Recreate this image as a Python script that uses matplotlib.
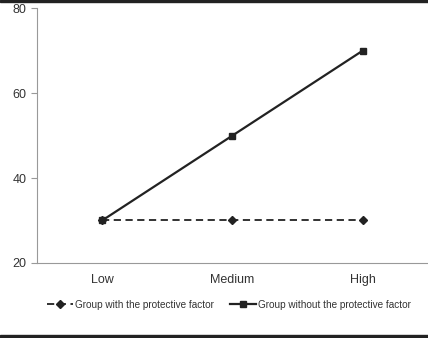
import matplotlib
matplotlib.use("Agg")
import matplotlib.pyplot as plt
from matplotlib.patches import Rectangle

plt.rcParams['font.family'] = ['Liberation Sans', 'DejaVu Sans']

categories = ["Low", "Medium", "High"]
with_factor = [30, 30, 30]
without_factor = [30, 50, 70]
y_ticks = [20, 40, 60, 80]

fig = plt.figure(figsize=(4.28, 3.38), dpi=100)
ax = fig.add_axes([0.0864, 0.222, 0.9136, 0.754])

x = [i + 0.5 for i in range(len(categories))]
ax.plot(x, with_factor, color="#222222", linestyle=(0, (4, 2.5)), linewidth=1.3,
        marker="D", markersize=4.5, label="Group with the protective factor")
ax.plot(x, without_factor, color="#222222", linestyle="-", linewidth=1.6,
        marker="s", markersize=5, label="Group without the protective factor")

ax.set_xlim(0, 3)
ax.set_ylim(20, 80)
ax.set_xticks(x)
ax.set_xticklabels(categories)
ax.set_yticks(y_ticks)
for s in ["top", "right"]:
    ax.spines[s].set_visible(False)
for s in ["left", "bottom"]:
    ax.spines[s].set_color("#999999")
ax.tick_params(axis="x", length=0, pad=8, labelsize=9, colors="#333333")
ax.tick_params(axis="y", length=4, color="#999999", labelsize=9, colors="#333333")

leg = fig.legend(loc="center", bbox_to_anchor=(0.535, 0.098), ncol=2, frameon=False,
                 fontsize=7.2, handlelength=2.6, columnspacing=1.6, handletextpad=0.25)
for t in leg.get_texts():
    t.set_color("#333333")

fig.patches.append(Rectangle((0, 0.994), 1, 0.006, transform=fig.transFigure,
                             color="#222222", zorder=10))
fig.patches.append(Rectangle((0, 0), 1, 0.008, transform=fig.transFigure,
                             color="#222222", zorder=10))

fig.savefig("out.png", dpi=100)
